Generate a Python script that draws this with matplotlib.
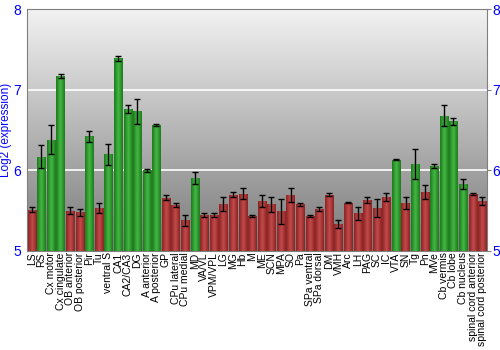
import numpy as np
import matplotlib
matplotlib.use("Agg")
import matplotlib.pyplot as plt
from matplotlib.colors import LinearSegmentedColormap

plt.rcParams['font.family'] = ['Liberation Sans', 'DejaVu Sans']

regions = ["LS", "RS", "Cx motor", "Cx cingulate", "OB anterior", "OB posterior", "Pir", "Tu",
           "ventral S", "CA1", "CA2/CA3", "DG", "A anterior", "A posterior", "GP", "CPu lateral",
           "CPu medial", "MD", "VA/VL", "VPM/VPL", "LG", "MG", "Hb", "M", "ME", "SCN", "MPA", "SO",
           "Pa", "SPa ventral", "SPa dorsal", "DM", "VMH", "Arc", "LH", "PAG", "SC", "IC", "VTA",
           "SN", "Tg", "Pn", "MVe", "Cb vermis", "Cb lobe", "Cb nucleus",
           "spinal cord anterior", "spinal cord posterior"]
expr = [5.51, 6.17, 6.38, 7.17, 5.50, 5.48, 6.42, 5.53, 6.20, 7.39, 6.76, 6.73, 6.00, 6.56,
        5.66, 5.57, 5.38, 5.91, 5.44, 5.44, 5.58, 5.70, 5.71, 5.43, 5.62, 5.58, 5.49, 5.69,
        5.58, 5.43, 5.52, 5.70, 5.33, 5.60, 5.47, 5.63, 5.53, 5.67, 6.13, 5.59, 6.08, 5.73,
        6.05, 6.68, 6.61, 5.83, 5.71, 5.62]
err = [0.03, 0.14, 0.18, 0.02, 0.04, 0.045, 0.07, 0.06, 0.13, 0.03, 0.05, 0.16, 0.015, 0.015,
       0.03, 0.03, 0.065, 0.075, 0.025, 0.025, 0.09, 0.035, 0.07, 0.01, 0.07, 0.095, 0.15, 0.085,
       0.02, 0.01, 0.02, 0.02, 0.05, 0.005, 0.08, 0.035, 0.11, 0.055, 0.005, 0.075, 0.19, 0.085,
       0.025, 0.13, 0.045, 0.065, 0.015, 0.045]
# high expression regions are drawn green, the rest red
high = [False, True, True, True, False, False, True, False, True, True, True, True, True, True,
        False, False, False, True, False, False, False, False, False, False, False, False, False,
        False, False, False, False, False, False, False, False, False, False, False, True, False,
        True, False, True, True, True, True, False, False]

green_cmap = LinearSegmentedColormap.from_list("g", ["#1c7a1c", "#44b844", "#1c7a1c"])
red_cmap = LinearSegmentedColormap.from_list("r", ["#8a2424", "#c44a4a", "#8a2424"])
bg_cmap = LinearSegmentedColormap.from_list("bg", ["#7a7a7a", "#f2f2f2"])

fig = plt.figure(figsize=(5, 3.5), dpi=100)
ax = fig.add_axes([0.054, 0.283, 0.92, 0.691])

x = np.arange(len(regions))
ax.set_xlim(-0.5, len(regions) - 0.5)
ax.set_ylim(5, 8)

# background gradient
grad = np.linspace(0, 1, 256).reshape(-1, 1)
ax.imshow(grad, cmap=bg_cmap, aspect="auto", origin="lower",
          extent=[-0.5, len(regions) - 0.5, 5, 8], zorder=0)
for yv in [6, 7]:
    ax.axhline(yv, color="white", lw=1.2, zorder=1)

bars = ax.bar(x, np.array(expr) - 5, bottom=5, width=0.85, color="none", zorder=2)
hgrad = np.linspace(0, 1, 64).reshape(1, -1)
for b, h in zip(bars, high):
    im = ax.imshow(hgrad, cmap=green_cmap if h else red_cmap, aspect="auto",
                   extent=[b.get_x(), b.get_x() + b.get_width(), 5, b.get_y() + b.get_height()],
                   zorder=2)
    im.set_clip_path(b)

ax.errorbar(x, expr, yerr=err, fmt="none", ecolor="black", elinewidth=1,
            capsize=2, capthick=1, zorder=3)

ax.set_xticks(x)
ax.set_xticklabels(regions, rotation=90, fontsize=7.5)
ax.tick_params(axis="x", length=0, pad=1)
ax.set_yticks([5, 6, 7, 8])
ax.tick_params(axis="y", colors="#7f7f7f", labelcolor="blue", labelsize=10,
               right=True, labelright=True, left=False, length=3, pad=1)
ax.set_ylabel("Log2 (expression)", color="blue", fontsize=8.5, labelpad=1)

for side in ["left", "right", "top", "bottom"]:
    ax.spines[side].set_color("#7f7f7f")

fig.savefig("out.png", dpi=100)
